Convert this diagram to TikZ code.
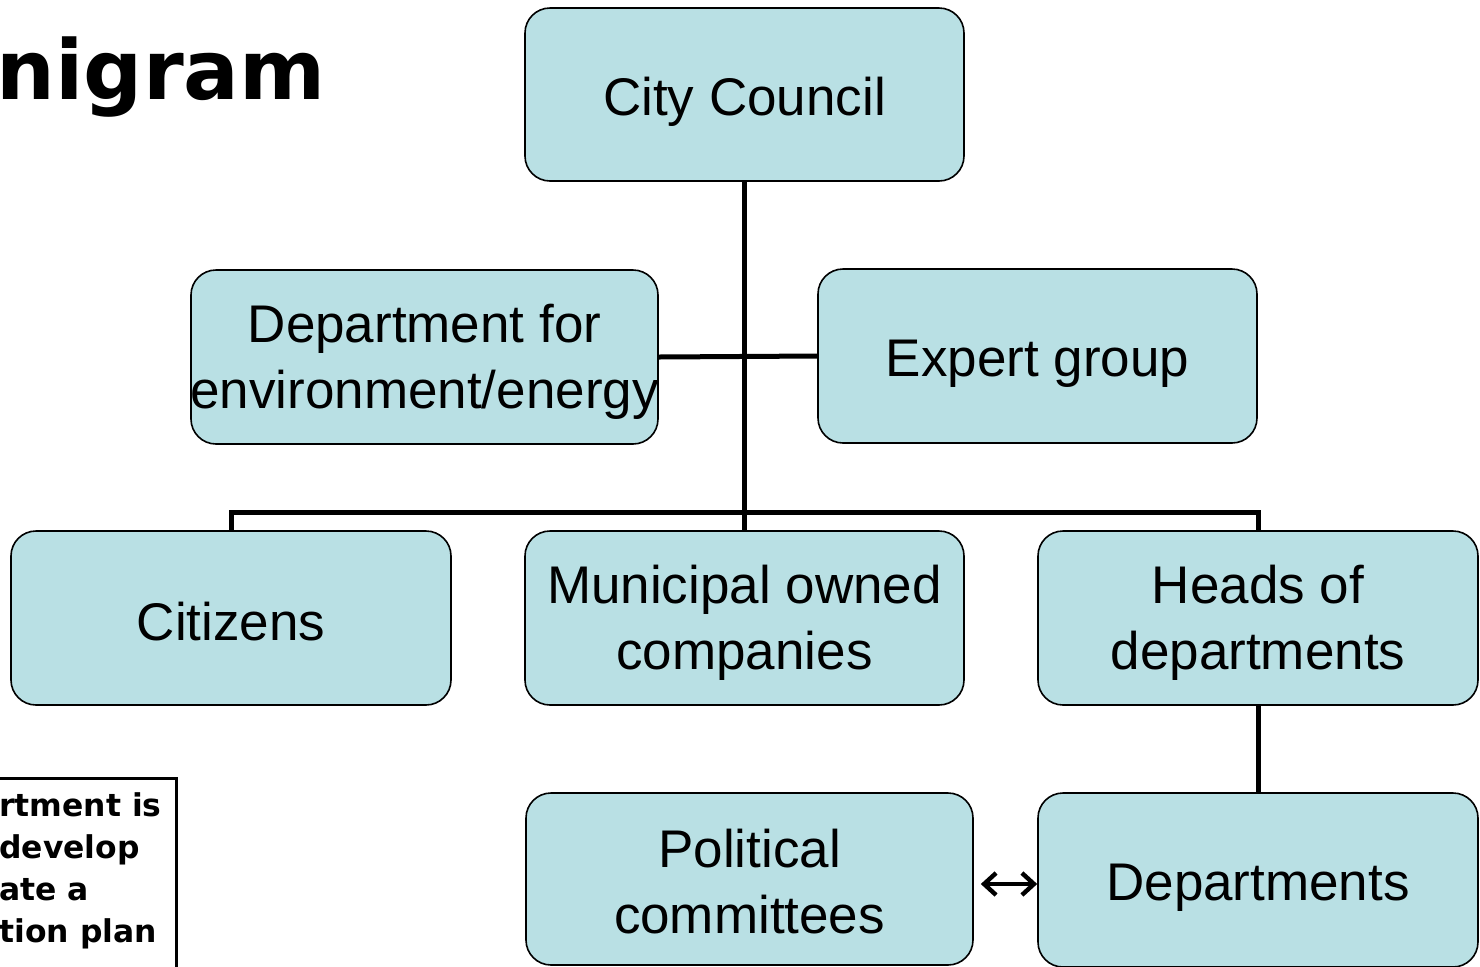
\documentclass[tikz,border=0pt]{standalone}
\usepackage{fontspec}
\setmainfont{Liberation Sans}
\newfontfamily\titlefont{DejaVu Sans}
\usetikzlibrary{arrows.meta}
\definecolor{boxfill}{RGB}{185,224,228}
\tikzset{
  orgbox/.style={draw=black, line width=0.8pt, fill=boxfill, rounded corners=12.5pt,
    inner sep=0pt},
  boxtext/.style={inner sep=0pt, align=center, font=\fontsize{26.5}{33}\selectfont},
  link/.style={line width=2.5pt}
}
\begin{document}
\begin{tikzpicture}[x=0.5pt,y=-0.5pt]
\useasboundingbox (0,0) rectangle (1480,966);
\clip (0,0) rectangle (1480,966);
\fill[white] (0,0) rectangle (1480,966);
% title
\node[anchor=base east, inner sep=0pt, font=\titlefont\bfseries\fontsize{41.3}{48}\selectfont] (title) at (326,99) {nigram};
% boxes
\node[orgbox, minimum width=219.5pt, minimum height=86.5pt] (cc) at (744.5,94.5) {};
\node[orgbox, minimum width=233.5pt, minimum height=87pt] (env) at (424.5,357) {};
\node[orgbox, minimum width=219.5pt, minimum height=87pt] (exp) at (1037.5,356) {};
\node[orgbox, minimum width=220pt, minimum height=87pt] (cit) at (231,618) {};
\node[orgbox, minimum width=219.5pt, minimum height=87pt] (mun) at (744.5,618) {};
\node[orgbox, minimum width=220pt, minimum height=87pt] (heads) at (1258,618) {};
\node[orgbox, minimum width=223.5pt, minimum height=86pt] (pol) at (749.5,879) {};
\node[orgbox, minimum width=220pt, minimum height=87pt] (dep) at (1258,880) {};
% box texts
\node[boxtext] (cc-t) at ([yshift=-3.5pt]cc.center) {City Council};
\node[boxtext] (env-t) at ([yshift=-2.5pt]env.center) {Department for\\environment/energy};
\node[boxtext] (exp-t) at ([yshift=-4pt]exp.center) {Expert group};
\node[boxtext] (cit-t) at ([yshift=-2pt]cit.center) {Citizens};
\node[boxtext] (mun-t) at ([yshift=-2.5pt]mun.center) {Municipal owned\\companies};
\node[boxtext] (heads-t) at ([yshift=-2.5pt]heads.center) {Heads of\\departments};
\node[boxtext] (pol-t) at ([yshift=-1.5pt]pol.center) {Political\\committees};
\node[boxtext] (dep-t) at ([yshift=-4pt]dep.center) {Departments};
% connectors
\coordinate (bus) at (744.5,512);
\draw[link] (cc.south) -- (mun.north);
\draw[link] (env.east) -- (exp.west);
\draw[link] (cit.north) |- (bus) -| (heads.north);
\draw[link] (heads.south) -- (dep.north);
\draw[line width=2.2pt, {Straight Barb[length=6pt,width=11pt]}-{Straight Barb[length=6pt,width=11pt]}, shorten <=3.5pt] ([yshift=-2.5pt]pol.east) -- ([yshift=-2.5pt]pol.east -| dep.west);
% note box
\node[draw=black, line width=1.5pt, fill=white, minimum width=200pt, minimum height=120pt, anchor=north east, inner sep=0pt] (note) at (178,777) {};
\node[anchor=north west, inner sep=0pt, align=left, font=\titlefont\bfseries\fontsize{15.7}{21}\selectfont] (notetext) at (-1,792) {rtment is\\ develop\\ ate a\\tion plan};
\end{tikzpicture}
\end{document}
